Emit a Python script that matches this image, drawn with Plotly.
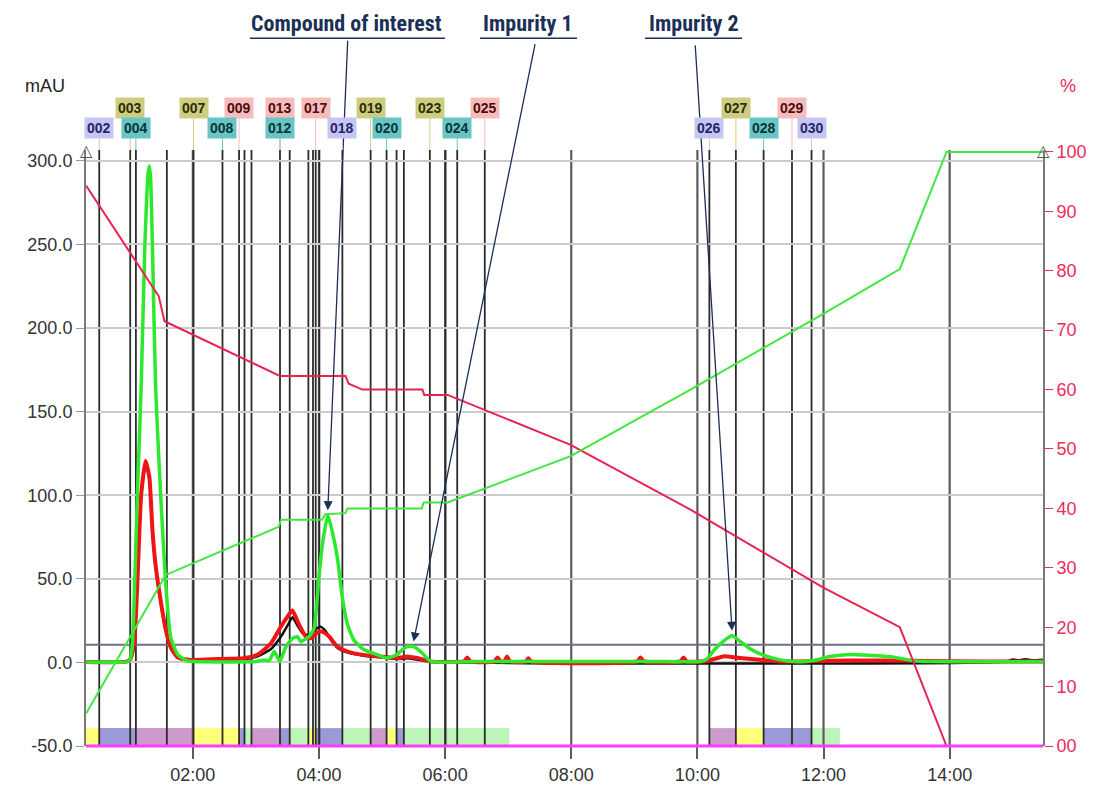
import plotly.graph_objects as go

# ---------------- axes ----------------
X_RANGE = [0.306, 15.48]
Y_RANGE = [-50, 306.5]
Y2_RANGE = [0, 100.33]

time_ticks = [2, 4, 6, 8, 10, 12, 14]
time_labels = ["02:00", "04:00", "06:00", "08:00", "10:00", "12:00", "14:00"]
mau_ticks = [-50, 0, 50, 100, 150, 200, 250, 300]
mau_labels = ["-50.0", "0.0", "50.0", "100.0", "150.0", "200.0", "250.0", "300.0"]
pct_ticks = [0, 10, 20, 30, 40, 50, 60, 70, 80, 90, 100]
pct_labels = ["00", "10", "20", "30", "40", "50", "60", "70", "80", "90", "100"]

# ---------------- chromatogram traces (min, mAU) ----------------
green_t = [0.31, 0.95, 1.00, 1.04, 1.07, 1.12, 1.18, 1.24, 1.29, 1.31, 1.33, 1.36, 1.41, 1.49,
           1.57, 1.65, 1.76, 1.90, 2.00, 3.00, 3.12, 3.21, 3.29, 3.38, 3.47, 3.58, 3.66, 3.71,
           3.84, 3.92, 3.96, 4.00, 4.06, 4.14, 4.20, 4.29, 4.37, 4.45, 4.55, 4.71, 4.92, 5.08,
           5.24, 5.32, 5.40, 5.50, 5.64, 5.77, 6.50, 8.00, 9.50, 10.04, 10.15, 10.28, 10.44,
           10.55, 10.68, 10.84, 11.07, 11.31, 11.52, 11.83, 12.10, 12.42, 12.74, 13.05, 13.42,
           13.69, 15.48]
green_v = [0.3, 0.3, 1.5, 10, 37, 100, 164, 250, 292, 297, 290, 249, 164, 100,
           47, 15, 4.7, 1.0, 0.5, 0.5, 1.5, 1.0, 6.5, 0.6, 9, 14.4, 15.4, 12.5,
           15.4, 20, 33, 51, 72, 88, 80, 63, 39, 23, 13.6, 7.7, 4.7, 2.6,
           4.7, 7.5, 9.5, 9.5, 5.5, 0.6, 0.5, 0.5, 0.5, 0.5, 2, 8, 13.5,
           15.9, 12.5, 8, 4, 1.5, 0.5, 1.0, 3.5, 4.7, 4.2, 3.5, 1.0,
           0.5, 0.5]

red_t = [0.31, 0.95, 1.01, 1.07, 1.12, 1.18, 1.25, 1.31, 1.36, 1.41, 1.49, 1.57, 1.65, 1.76,
         1.97, 2.40, 2.80, 3.02, 3.24, 3.39, 3.55, 3.58, 3.68, 3.79, 3.87, 3.97, 4.05, 4.16,
         4.29, 4.45, 4.71, 4.98, 5.24, 5.40, 5.56, 5.77, 6.30, 6.35, 6.40, 6.78, 6.83, 6.88,
         6.94, 6.98, 7.03, 7.28, 7.32, 7.36, 9.05, 9.10, 9.15, 9.73, 9.78, 9.83, 10.15, 10.41,
         10.68, 11.31, 11.83, 12.42, 13.42, 14.50, 15.48]
red_v = [0.3, 0.5, 2, 11, 47.5, 100, 120.5, 111, 79, 58, 37, 19.6, 9, 3,
         1.5, 2.0, 2.5, 4.5, 11.5, 21, 30, 31, 23, 15.5, 14.4, 17.8, 18.4, 15.5,
         9.5, 6.5, 4.5, 3.6, 2.6, 3.6, 2.6, 0.6, 0.6, 3.0, 0.6, 0.6, 3.0, 0.6,
         0.6, 3.5, 0.6, 0.6, 2.5, 0.6, 0.6, 3.0, 0.6, 0.6, 3.0, 0.6, 0.8, 3.6,
         2.6, 0.6, 0.8, 1.2, 1.0, 0.5, 0.5]

black_t = [0.31, 0.95, 1.01, 1.07, 1.12, 1.18, 1.25, 1.31, 1.36, 1.41, 1.49, 1.57, 1.65, 1.76,
           1.97, 2.80, 3.02, 3.24, 3.39, 3.50, 3.58, 3.66, 3.75, 3.85, 3.95, 4.02, 4.10, 4.20,
           4.30, 4.45, 4.71, 5.00, 5.24, 5.40, 5.77, 14.90, 15.00, 15.10, 15.20, 15.30, 15.48]
black_v = [0.3, 0.5, 2, 11, 47, 99, 119, 110, 78, 57, 36, 19, 8.5, 2.8,
           1.2, 2.0, 3.5, 8, 15, 22, 27, 22, 17, 16.5, 20, 21.4, 19, 13,
           8.5, 6, 4, 3, 2, 2.5, 0.5, 0.5, 1.8, 1.2, 1.9, 1.3, 1.6]

# ---------------- gradient program (min, %) ----------------
gradA_t = [0.31, 1.46, 1.55, 3.38, 4.42, 4.47, 4.69, 5.64, 5.67, 6.04, 7.99, 9.89, 11.99, 13.21, 13.95, 15.48]
gradA_v = [94.3, 75.7, 71.5, 62.3, 62.3, 61.0, 60.0, 60.0, 59.1, 59.1, 50.7, 39.8, 26.7, 20.0, 0.0, 0.0]
gradB_t = [0.31, 1.57, 3.36, 3.40, 4.05, 4.10, 4.42, 4.45, 5.63, 5.66, 6.04, 7.99, 9.89, 11.99, 13.21, 13.95, 15.48]
gradB_v = [5.5, 28.8, 36.9, 38.1, 38.1, 39.0, 39.2, 40.0, 40.0, 41.0, 41.0, 48.8, 60.0, 72.7, 80.3, 100.0, 100.0]

threshold_mau = 10.5

# ---------------- fractions ----------------
fraction_t = [0.516, 1.007, 1.097, 1.588, 2.011, 2.470, 2.733, 2.819, 2.930, 3.382, 3.536, 3.832,
              3.905, 3.948, 4.006, 4.371, 4.819, 5.072, 5.230, 5.346, 5.758, 6.006, 6.192, 6.629,
              10.19, 10.61, 11.05, 11.50, 11.81]
label_names = ["002", "003", "004", "007", "008", "009", "012", "013", "017", "018",
               "019", "020", "023", "024", "025", "026", "027", "028", "029", "030"]
label_t = [0.516, 1.007, 1.097, 2.011, 2.470, 2.733, 3.382, 3.382, 3.948, 4.371,
           4.819, 5.072, 5.758, 6.192, 6.629, 10.19, 10.61, 11.05, 11.50, 11.81]

band_t0 = [0.306, 0.516, 1.097, 2.011, 2.733, 2.819, 2.930, 3.382, 3.536, 3.832, 3.948, 4.371,
           4.819, 5.072, 5.230, 5.346, 10.19, 10.61, 11.05, 11.81]
band_t1 = [0.516, 1.097, 2.011, 2.733, 2.819, 2.930, 3.382, 3.536, 3.832, 3.948, 4.371, 4.819,
           5.072, 5.230, 5.346, 7.02, 10.61, 11.05, 11.81, 12.26]
band_kind = ["Y", "B", "P", "Y", "B", "G", "P", "B", "G", "Y", "B", "G",
             "P", "Y", "B", "G", "P", "Y", "B", "G"]

BAND_COLORS = {"Y": "#ffff7a", "B": "#9a9ad6", "P": "#cc9acc", "G": "#bdf5b8"}
LABEL_STYLE = {2: ("#c6c6f3", "#24246a"), 3: ("#cdcd82", "#2e2e05"),
               0: ("#68c5c5", "#0b3535"), 1: ("#f6bcbc", "#4d0d0d")}

NAVY = "#1b2f57"
PINK = "#ee2a5c"

fig = go.Figure()

# gradients (right axis)
fig.add_trace(go.Scatter(x=gradA_t, y=gradA_v, yaxis="y2", mode="lines",
                         line=dict(color="#e8234f", width=2), hoverinfo="skip"))
fig.add_trace(go.Scatter(x=gradB_t, y=gradB_v, yaxis="y2", mode="lines",
                         line=dict(color="#3fe83f", width=2), hoverinfo="skip"))
# chromatograms
fig.add_trace(go.Scatter(x=black_t, y=black_v, mode="lines",
                         line=dict(color="#111111", width=2.5, shape="spline", smoothing=0.5)))
fig.add_trace(go.Scatter(x=red_t, y=red_v, mode="lines",
                         line=dict(color="#f01414", width=4, shape="spline", smoothing=0.5)))
fig.add_trace(go.Scatter(x=green_t, y=green_v, mode="lines",
                         line=dict(color="#2ee82e", width=3.5, shape="spline", smoothing=0.5)))

shapes = []
# fraction bands
for t0, t1, k in zip(band_t0, band_t1, band_kind):
    shapes.append(dict(type="rect", xref="x", yref="paper", x0=t0, x1=t1, y0=0, y1=0.03,
                       fillcolor=BAND_COLORS[k], line=dict(width=0), layer="below"))
# time grid lines
for t in time_ticks:
    shapes.append(dict(type="line", xref="x", yref="paper", x0=t, x1=t, y0=0, y1=1,
                       line=dict(color="#5c5c5c", width=2.2), layer="below"))
# fraction lines
for t in fraction_t:
    shapes.append(dict(type="line", xref="x", yref="paper", x0=t, x1=t, y0=0, y1=1,
                       line=dict(color="#2b2b2b", width=1.8), layer="below"))
# threshold line
shapes.append(dict(type="line", xref="paper", yref="y", x0=0, x1=1, y0=threshold_mau, y1=threshold_mau,
                   line=dict(color="#6e6e86", width=2), layer="below"))
# magenta baseline (at the bottom of the plot area)
shapes.append(dict(type="line", xref="paper", yref="paper", x0=0, x1=1, y0=0, y1=0,
                   line=dict(color="#ff3cff", width=3), layer="above"))

# title underlines
callouts = [("Compound of interest", 0.2727, 0.1714, 0.3751),
            ("Impurity 1", 0.4619, 0.4117, 0.5131),
            ("Impurity 2", 0.6353, 0.5841, 0.6855)]
for _, cx, u0, u1 in callouts:
    shapes.append(dict(type="line", xref="paper", yref="paper", x0=u0, x1=u1, y0=1.1875, y1=1.1875,
                       line=dict(color=NAVY, width=1.3)))

annotations = []
for name, cx, _, _ in callouts:
    annotations.append(dict(text="<b>" + name + "</b>", xref="paper", yref="paper", x=cx, y=1.2125,
                            yanchor="middle", xanchor="center", showarrow=False,
                            font=dict(family="Roboto Condensed, Roboto", size=22, color=NAVY)))


def peak_of(ts, vs, lo, hi):
    best = max((v, t) for t, v in zip(ts, vs) if lo <= t <= hi)
    return best[1], best[0]


arrow_targets = [(peak_of(green_t, green_v, 3.9, 4.4), 20, -472),
                 (peak_of(green_t, green_v, 5.2, 5.6), 122, -600),
                 (peak_of(green_t, green_v, 10.2, 10.9), -37, -588)]
for (pt, pv), axp, ayp in arrow_targets:
    annotations.append(dict(text=" ", x=pt, y=pv + 3, xref="x", yref="y", ax=axp, ay=ayp,
                            showarrow=True, arrowhead=2, arrowsize=1.4, arrowwidth=1.3,
                            arrowcolor=NAVY, font=dict(size=2)))

# fraction labels: upper row first, lower row drawn on top
label_order = sorted(zip(label_names, label_t), key=lambda p: int(p[0]) % 2 == 0)
for name, t in label_order:
    n = int(name)
    bg, fg = LABEL_STYLE[n % 4]
    upper = n % 2 == 1
    annotations.append(dict(text="<b>" + name + "</b>", x=t, y=1.0, xref="x", yref="paper",
                            ax=0, ay=-42 if upper else -22, showarrow=True, arrowhead=0,
                            arrowwidth=1, arrowcolor=bg, bgcolor=bg, borderpad=2,
                            font=dict(family="Liberation Sans, Arial", size=14, color=fg)))

# axis titles and markers
annotations.append(dict(text="mAU", xref="paper", yref="paper", x=-0.0428, y=1.108, showarrow=False,
                        xanchor="center", yanchor="middle",
                        font=dict(family="Liberation Sans, Arial", size=18, color="#222222")))
annotations.append(dict(text="%", xref="paper", yref="paper", x=1.026, y=1.108, showarrow=False,
                        xanchor="center", yanchor="middle",
                        font=dict(family="Liberation Sans, Arial", size=18, color=PINK)))
for px in (0, 1):
    annotations.append(dict(text="△", xref="paper", yref="paper", x=px, y=1.0, yanchor="middle",
                            xanchor="center", showarrow=False, font=dict(size=16, color="#555555")))

fig.update_layout(
    width=1100, height=789,
    margin=dict(l=78, r=65, t=142, b=47),
    paper_bgcolor="white", plot_bgcolor="white",
    showlegend=False,
    font=dict(family="Liberation Sans, Arial", size=18, color="#333333"),
    xaxis=dict(range=X_RANGE, tickvals=time_ticks, ticktext=time_labels, showgrid=False,
               zeroline=False, ticks="outside", ticklen=12, tickwidth=2, tickcolor="#5c5c5c",
               showline=False, tickfont=dict(size=18, color="#333333")),
    yaxis=dict(range=Y_RANGE, tickvals=mau_ticks, ticktext=mau_labels, showgrid=True,
               gridcolor="#cbcbcb", gridwidth=1.5, zeroline=False, ticks="outside", ticklen=8,
               tickcolor="#999999", showline=True, linecolor="#7a7a7a", linewidth=2,
               tickfont=dict(size=18, color="#333333")),
    yaxis2=dict(range=Y2_RANGE, overlaying="y", side="right", tickvals=pct_ticks, ticktext=pct_labels,
                showgrid=False, zeroline=False, ticks="outside", ticklen=8, tickcolor=PINK,
                showline=True, linecolor="#7a7a7a", linewidth=2,
                tickfont=dict(size=18, color=PINK)),
    shapes=shapes,
    annotations=annotations,
)

fig.write_html("out.html")
